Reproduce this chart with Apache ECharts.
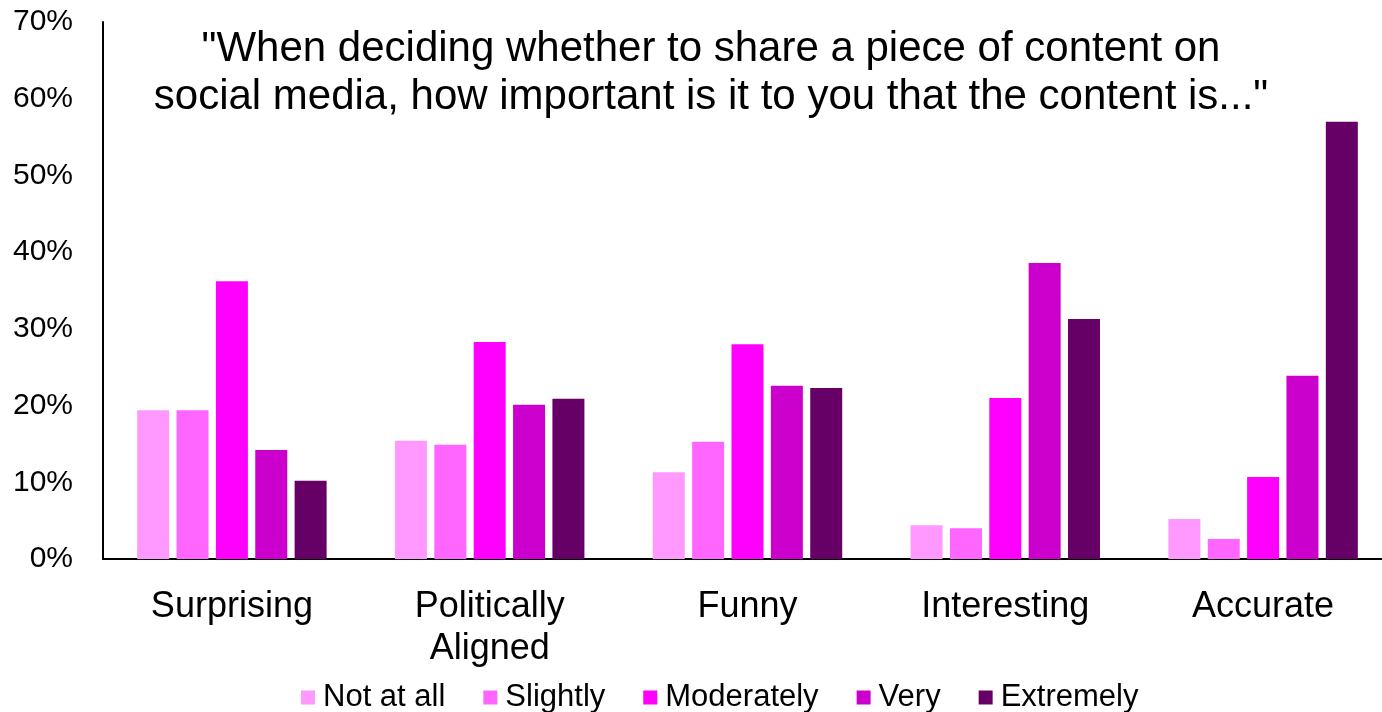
<!DOCTYPE html>
<html>
<head>
<meta charset="utf-8">
<script src="https://cdn.jsdelivr.net/npm/echarts@6/dist/echarts.min.js"></script>
<style>
  html, body { margin: 0; padding: 0; background: #fff; overflow: hidden; width: 1382px; height: 712px; }
  /* the plot area runs a little past the right edge of the page */
  #chart { width: 1392px; height: 712px; }
</style>
</head>
<body>
<div id="chart"></div>
<script>
// Survey: importance of content attributes when sharing on social media (% of respondents)
const categories = ['Surprising', 'Politically\nAligned', 'Funny', 'Interesting', 'Accurate'];
const seriesNames = ['Not at all', 'Slightly', 'Moderately', 'Very', 'Extremely'];
const notAtAll   = [19.4, 15.4, 11.3, 4.4, 5.2];
const slightly   = [19.4, 14.9, 15.3, 4.0, 2.6];
const moderately = [36.2, 28.3, 28.0, 21.0, 10.7];
const very       = [14.2, 20.1, 22.6, 38.6, 23.9];
const extremely  = [10.2, 20.9, 22.3, 31.3, 57.0];
const yTicks = [0, 10, 20, 30, 40, 50, 60, 70];
const titleLines = [
  '"When deciding whether to share a piece of content on',
  'social media, how important is it to you that the content is..."'
];

const colors = ['#FF99FF', '#FF66FF', '#FF00FF', '#CC00CC', '#660066'];
const seriesData = [notAtAll, slightly, moderately, very, extremely];
const FONT = '"Liberation Sans", Arial, sans-serif';

const chart = echarts.init(document.getElementById('chart'), null, { renderer: 'canvas' });
chart.setOption({
  animation: false,
  backgroundColor: '#ffffff',
  textStyle: { fontFamily: FONT, color: '#000' },
  graphic: [{
    type: 'text',
    x: 711,
    y: 25,
    z: 10,
    style: {
      text: titleLines.join('\n'),
      font: '42px ' + FONT,
      fill: '#000',
      textAlign: 'center',
      textVerticalAlign: 'top',
      lineHeight: 48
    }
  }],
  legend: {
    data: seriesNames,
    left: 296,
    top: 677,
    itemWidth: 14,
    itemHeight: 14,
    itemGap: 38,
    icon: 'rect',
    textStyle: { fontFamily: FONT, fontSize: 31, color: '#000', padding: [0, 0, 0, 3] }
  },
  grid: { left: 103, top: 22, right: 0, bottom: 153, containLabel: false },
  xAxis: {
    type: 'category',
    data: categories,
    axisLine: { lineStyle: { color: '#000', width: 2 } },
    axisTick: { show: false },
    axisLabel: { fontFamily: FONT, fontSize: 36, color: '#000', margin: 27, lineHeight: 42, interval: 0 }
  },
  yAxis: {
    type: 'value',
    min: yTicks[0],
    max: yTicks[yTicks.length - 1],
    interval: 10,
    axisLine: { show: true, lineStyle: { color: '#000', width: 2 } },
    axisTick: { show: false },
    splitLine: { show: false },
    axisLabel: { fontFamily: FONT, fontSize: 30, color: '#000', margin: 30, formatter: v => v + '%' }
  },
  series: seriesNames.map((name, i) => ({
    name,
    type: 'bar',
    data: seriesData[i],
    barWidth: 32,
    barGap: '23%',
    itemStyle: { color: colors[i] }
  }))
});
</script>
</body>
</html>
